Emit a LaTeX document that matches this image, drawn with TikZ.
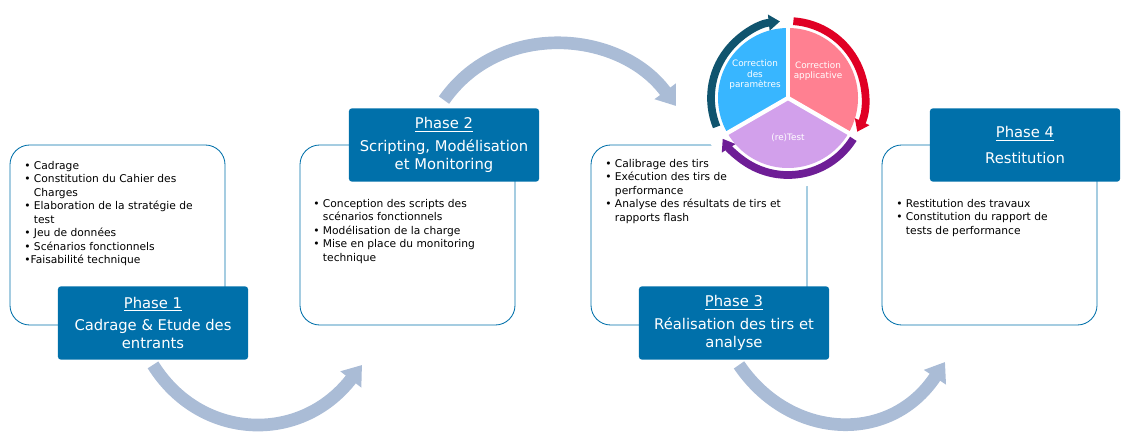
\documentclass[tikz,border=0pt]{standalone}
\usepackage{fontspec}
\setmainfont{DejaVu Sans}
\usetikzlibrary{arrows.meta, positioning}
\definecolor{phaseblue}{RGB}{0,112,170}
\definecolor{flowgray}{RGB}{170,188,214}
\definecolor{pieblue}{RGB}{56,182,255}
\definecolor{piepink}{RGB}{255,128,145}
\definecolor{pielilac}{RGB}{210,160,235}
\definecolor{arcteal}{RGB}{16,84,110}
\definecolor{arcred}{RGB}{224,0,36}
\definecolor{arcpurple}{RGB}{110,30,150}
\newcommand{\bul}{\textbullet\ }
\newcommand{\ind}{\phantom{\textbullet\ }}
\begin{document}
\begin{tikzpicture}[
    x=0.025cm, y=-0.025cm,
    card/.style={draw=phaseblue, line width=0.6pt, rounded corners=14pt, fill=white},
    phase/.style={rectangle, rounded corners=2pt, fill=phaseblue, text=white, minimum width=4.75cm, minimum height=1.83cm, align=center, font=\fontsize{10.5}{13}\selectfont, inner sep=2pt},
    bullets/.style={anchor=north west, align=left, font=\fontsize{7.6}{9.6}\selectfont, inner sep=0pt},
    flow/.style={line width=9pt, draw=flowgray, -{Triangle[width=18pt, length=13pt]}},
    ring/.style={line width=5.5pt, -{Triangle[width=11pt, length=8pt]}},
    pietext/.style={text=white, align=center, font=\fontsize{6.3}{7.5}\selectfont}
]
    \useasboundingbox (0,0) rectangle (1128,440);

    % content cards
    \draw[card] (10,145) rectangle (225,325);
    \draw[card] (300,145) rectangle (515,325);
    \draw[card] (591,145) rectangle (807,325);
    \draw[card] (882,145) rectangle (1097,325);

    \node[bullets] (list1) at (24,161) {\bul Cadrage\\ \bul Constitution du Cahier des\\ \ind Charges\\ \bul Elaboration de la strat\'egie de\\ \ind test\\ \bul Jeu de donn\'ees\\ \bul Sc\'enarios fonctionnels\\ \textbullet Faisabilit\'e technique};
    \node[bullets] (list2) at (313,199) {\bul Conception des scripts des\\ \ind sc\'enarios fonctionnels\\ \bul Mod\'elisation de la charge\\ \bul Mise en place du monitoring\\ \ind technique};
    \node[bullets] (list3) at (605,159) {\bul Calibrage des tirs\\ \bul Ex\'ecution des tirs de\\ \ind performance\\ \bul Analyse des r\'esultats de tirs et\\ \ind rapports flash};
    \node[bullets] (list4) at (896,199) {\bul Restitution des travaux\\ \bul Constitution du rapport de\\ \ind tests de performance};

    % phase boxes
    \node[phase] (phase1) at (153,323) {\underline{Phase 1}\\[3pt]Cadrage \& Etude des\\entrants};
    \node[phase] (phase2) at (444,145) {\underline{Phase 2}\\[3pt]Scripting, Mod\'elisation\\et Monitoring};
    \node[phase] (phase3) at (734,323) {\underline{Phase 3}\\[3pt]R\'ealisation des tirs et\\analyse};
    \node[phase] (phase4) at (1025,145) {\underline{Phase 4}\\[5pt]Restitution};

    % flow arrows
    \draw[flow] (phase1.south) ++(0,5) .. controls (200,440) and (300,445) .. (362,365);
    \draw[flow] (phase2.north) ++(0,-8) .. controls (500,20) and (620,30) .. (676,106);
    \draw[flow] (phase3.south) ++(5,5) .. controls (790,440) and (890,445) .. (945,362);

    % correction cycle
    \fill[white] (788,98) circle[radius=90];
    \begin{scope}[y=0.025cm]
      \coordinate (hub) at (788,-98);
      \fill[pieblue] (hub) -- ++(90:70) arc[start angle=90, end angle=210, radius=70] -- cycle;
      \fill[piepink] (hub) -- ++(90:70) arc[start angle=90, end angle=-30, radius=70] -- cycle;
      \fill[pielilac] (hub) -- ++(210:70) arc[start angle=210, end angle=330, radius=70] -- cycle;
      \foreach \a in {90,210,330}
        \draw[white, line width=3pt] (hub) -- ++(\a:72);
      \draw[ring, draw=arcteal, arcteal] (hub) ++(202:77) arc[start angle=202, end angle=96, radius=77];
      \draw[ring, draw=arcred, arcred] (hub) ++(86:77) arc[start angle=86, end angle=-26, radius=77];
      \draw[ring, draw=arcpurple, arcpurple] (hub) ++(-32:77) arc[start angle=-32, end angle=-148, radius=77];
    \end{scope}
    \node[pietext] (param) at (755,75) {Correction\\des\\param\`etres};
    \node[pietext] (appli) at (818,71) {Correction\\applicative};
    \node[pietext] (retest) at (788,138) {(re)Test};
\end{tikzpicture}
\end{document}
